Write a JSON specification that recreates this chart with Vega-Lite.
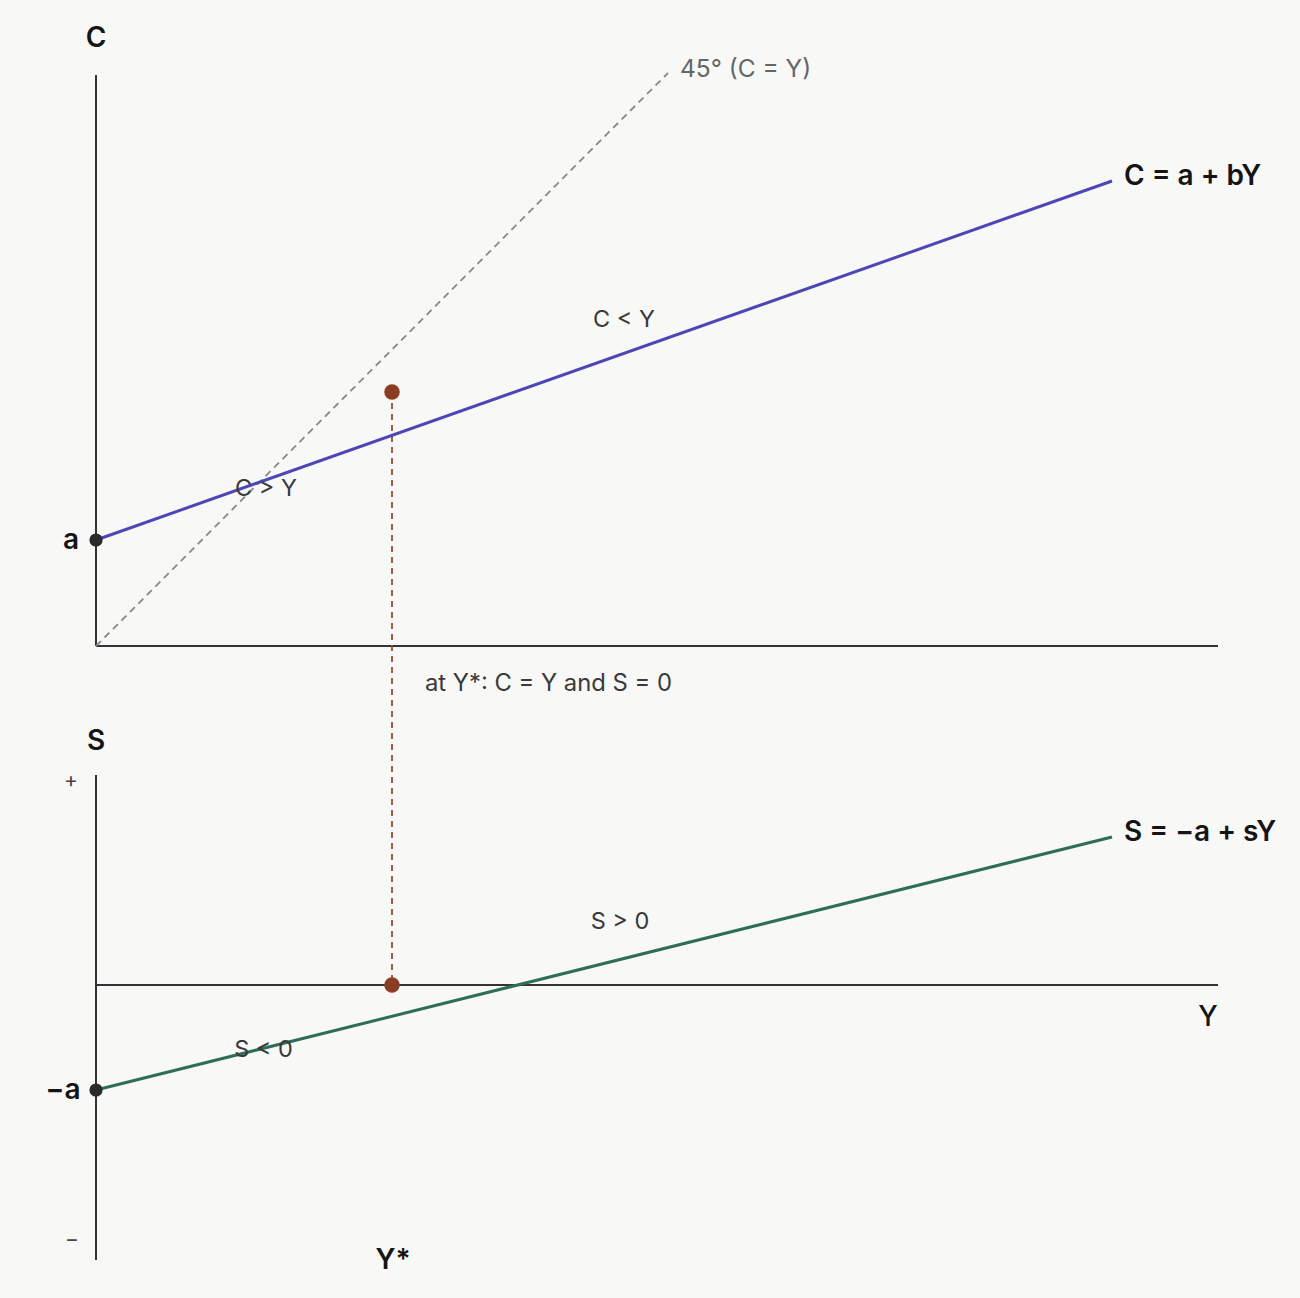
{
  "$schema": "https://vega.github.io/schema/vega-lite/v6.json",
  "background": "#f8f8f6",
  "padding": 0,
  "spacing": 0,
  "bounds": "flush",
  "config": {"view": {"stroke": null}, "font": "Inter"},
  "resolve": {"scale": {"y": "independent"}},
  "datasets": {
    "top_segments": [
      {"part": "C axis", "Y": 0, "C": 0, "Y2": 0, "C2": 57.1},
      {"part": "Y axis", "Y": 0, "C": 0, "Y2": 112.2, "C2": 0},
      {"part": "45 line", "Y": 0, "C": 0, "Y2": 57.2, "C2": 57.3},
      {"part": "consumption", "Y": 0, "C": 10.6, "Y2": 101.6, "C2": 46.5},
      {"part": "Y* guide", "Y": 29.6, "C": 25.4, "Y2": 29.6, "C2": -5.4}
    ],
    "top_points": [
      {"part": "a", "Y": 0, "C": 10.6},
      {"part": "Y*", "Y": 29.6, "C": 25.4}
    ],
    "top_labels": [
      {"kind": "axis", "text": "C", "Y": 0, "C": 60.75},
      {"kind": "axis", "text": "a", "Y": -2.5, "C": 10.5},
      {"kind": "curve", "text": "C = a + bY", "Y": 102.8, "C": 46.95},
      {"kind": "region", "text": "C > Y", "Y": 17.0, "C": 15.7},
      {"kind": "region", "text": "C < Y", "Y": 52.8, "C": 32.6},
      {"kind": "note", "text": "at Y*: C = Y and S = 0", "Y": 32.9, "C": -3.8},
      {"kind": "diag", "text": "45° (C = Y)", "Y": 58.4, "C": 57.6}
    ],
    "bottom_segments": [
      {"part": "S axis", "Y": 0, "S": 21.0, "Y2": 0, "S2": -27.5},
      {"part": "Y axis", "Y": 0, "S": 0, "Y2": 112.2, "S2": 0},
      {"part": "saving", "Y": 0, "S": -10.5, "Y2": 101.6, "S2": 14.8},
      {"part": "Y* guide", "Y": 29.6, "S": 28.5, "Y2": 29.6, "S2": 0}
    ],
    "bottom_points": [
      {"part": "-a", "Y": 0, "S": -10.5},
      {"part": "Y*", "Y": 29.6, "S": 0}
    ],
    "bottom_labels": [
      {"kind": "axis", "text": "S", "Y": 0, "S": 24.3},
      {"kind": "axis", "text": "−a", "Y": -3.3, "S": -10.6},
      {"kind": "axis", "text": "Y*", "Y": 29.7, "S": -27.55},
      {"kind": "axisname", "text": "Y", "Y": 111.2, "S": -3.25},
      {"kind": "curve", "text": "S = −a + sY", "Y": 102.8, "S": 15.25},
      {"kind": "region", "text": "S > 0", "Y": 52.4, "S": 6.3},
      {"kind": "region", "text": "S < 0", "Y": 16.75, "S": -6.5},
      {"kind": "sign", "text": "+", "Y": -2.5, "S": 20.4},
      {"kind": "sign", "text": "−", "Y": -2.4, "S": -25.5}
    ]
  },
  "vconcat": [
    {
      "width": 1300,
      "height": 700,
      "encoding": {
        "x": {"field": "Y", "type": "quantitative", "scale": {"domain": [-9.6, 120.4], "nice": false, "zero": false}, "axis": null},
        "y": {"field": "C", "type": "quantitative", "scale": {"domain": [-5.4, 64.6], "nice": false, "zero": false}, "axis": null}
      },
      "layer": [
        {
          "data": {"name": "top_segments"},
          "transform": [{"filter": "datum.part == 'C axis' || datum.part == 'Y axis'"}],
          "mark": {"type": "rule", "color": "#333333", "strokeWidth": 2},
          "encoding": {"x2": {"field": "Y2"}, "y2": {"field": "C2"}}
        },
        {
          "data": {"name": "top_segments"},
          "transform": [{"filter": "datum.part == '45 line'"}],
          "mark": {"type": "rule", "color": "#888888", "strokeWidth": 1.8, "strokeDash": [7, 5]},
          "encoding": {"x2": {"field": "Y2"}, "y2": {"field": "C2"}}
        },
        {
          "data": {"name": "top_segments"},
          "transform": [{"filter": "datum.part == 'Y* guide'"}],
          "mark": {"type": "rule", "color": "#9a4a30", "strokeWidth": 1.8, "strokeDash": [6, 5]},
          "encoding": {"x2": {"field": "Y2"}, "y2": {"field": "C2"}}
        },
        {
          "data": {"name": "top_segments"},
          "transform": [{"filter": "datum.part == 'consumption'"}],
          "mark": {"type": "rule", "color": "#4e46b6", "strokeWidth": 3},
          "encoding": {"x2": {"field": "Y2"}, "y2": {"field": "C2"}}
        },
        {
          "data": {"name": "top_points"},
          "transform": [{"filter": "datum.part == 'a'"}],
          "mark": {"type": "point", "filled": true, "opacity": 1, "color": "#2b2b2b", "size": 175}
        },
        {
          "data": {"name": "top_points"},
          "transform": [{"filter": "datum.part == 'Y*'"}],
          "mark": {"type": "point", "filled": true, "opacity": 1, "color": "#8b3d24", "size": 240}
        },
        {
          "data": {"name": "top_labels"},
          "transform": [{"filter": "datum.kind == 'axis'"}],
          "mark": {"type": "text", "fontSize": 28, "fontWeight": 600, "color": "#151515", "align": "center", "baseline": "middle"},
          "encoding": {"text": {"field": "text"}}
        },
        {
          "data": {"name": "top_labels"},
          "transform": [{"filter": "datum.kind == 'curve'"}],
          "mark": {"type": "text", "fontSize": 28, "fontWeight": 600, "color": "#151515", "align": "left", "baseline": "middle"},
          "encoding": {"text": {"field": "text"}}
        },
        {
          "data": {"name": "top_labels"},
          "transform": [{"filter": "datum.kind == 'region'"}],
          "mark": {"type": "text", "fontSize": 23.5, "color": "#3a3a3a", "align": "center", "baseline": "middle"},
          "encoding": {"text": {"field": "text"}}
        },
        {
          "data": {"name": "top_labels"},
          "transform": [{"filter": "datum.kind == 'note'"}],
          "mark": {"type": "text", "fontSize": 23.8, "color": "#3a3a3a", "align": "left", "baseline": "middle"},
          "encoding": {"text": {"field": "text"}}
        },
        {
          "data": {"name": "top_labels"},
          "transform": [{"filter": "datum.kind == 'diag'"}],
          "mark": {"type": "text", "fontSize": 24.5, "color": "#666666", "align": "left", "baseline": "middle"},
          "encoding": {"text": {"field": "text"}}
        }
      ]
    },
    {
      "width": 1300,
      "height": 598,
      "encoding": {
        "x": {"field": "Y", "type": "quantitative", "scale": {"domain": [-9.6, 120.4], "nice": false, "zero": false}, "axis": null},
        "y": {"field": "S", "type": "quantitative", "scale": {"domain": [-31.3, 28.5], "nice": false, "zero": false}, "axis": null}
      },
      "layer": [
        {
          "data": {"name": "bottom_segments"},
          "transform": [{"filter": "datum.part == 'S axis' || datum.part == 'Y axis'"}],
          "mark": {"type": "rule", "color": "#333333", "strokeWidth": 2},
          "encoding": {"x2": {"field": "Y2"}, "y2": {"field": "S2"}}
        },
        {
          "data": {"name": "bottom_segments"},
          "transform": [{"filter": "datum.part == 'Y* guide'"}],
          "mark": {"type": "rule", "color": "#9a4a30", "strokeWidth": 1.8, "strokeDash": [6, 5]},
          "encoding": {"x2": {"field": "Y2"}, "y2": {"field": "S2"}}
        },
        {
          "data": {"name": "bottom_segments"},
          "transform": [{"filter": "datum.part == 'saving'"}],
          "mark": {"type": "rule", "color": "#2e6e56", "strokeWidth": 3},
          "encoding": {"x2": {"field": "Y2"}, "y2": {"field": "S2"}}
        },
        {
          "data": {"name": "bottom_points"},
          "transform": [{"filter": "datum.part == '-a'"}],
          "mark": {"type": "point", "filled": true, "opacity": 1, "color": "#2b2b2b", "size": 175}
        },
        {
          "data": {"name": "bottom_points"},
          "transform": [{"filter": "datum.part == 'Y*'"}],
          "mark": {"type": "point", "filled": true, "opacity": 1, "color": "#8b3d24", "size": 240}
        },
        {
          "data": {"name": "bottom_labels"},
          "transform": [{"filter": "datum.kind == 'axis'"}],
          "mark": {"type": "text", "fontSize": 28, "fontWeight": 600, "color": "#151515", "align": "center", "baseline": "middle"},
          "encoding": {"text": {"field": "text"}}
        },
        {
          "data": {"name": "bottom_labels"},
          "transform": [{"filter": "datum.kind == 'axisname'"}],
          "mark": {"type": "text", "fontSize": 28, "fontWeight": 500, "color": "#151515", "align": "center", "baseline": "middle"},
          "encoding": {"text": {"field": "text"}}
        },
        {
          "data": {"name": "bottom_labels"},
          "transform": [{"filter": "datum.kind == 'curve'"}],
          "mark": {"type": "text", "fontSize": 28, "fontWeight": 600, "color": "#151515", "align": "left", "baseline": "middle"},
          "encoding": {"text": {"field": "text"}}
        },
        {
          "data": {"name": "bottom_labels"},
          "transform": [{"filter": "datum.kind == 'region'"}],
          "mark": {"type": "text", "fontSize": 23.5, "color": "#3a3a3a", "align": "center", "baseline": "middle"},
          "encoding": {"text": {"field": "text"}}
        },
        {
          "data": {"name": "bottom_labels"},
          "transform": [{"filter": "datum.kind == 'sign'"}],
          "mark": {"type": "text", "fontSize": 21, "color": "#444444", "align": "center", "baseline": "middle"},
          "encoding": {"text": {"field": "text"}}
        }
      ]
    }
  ]
}
